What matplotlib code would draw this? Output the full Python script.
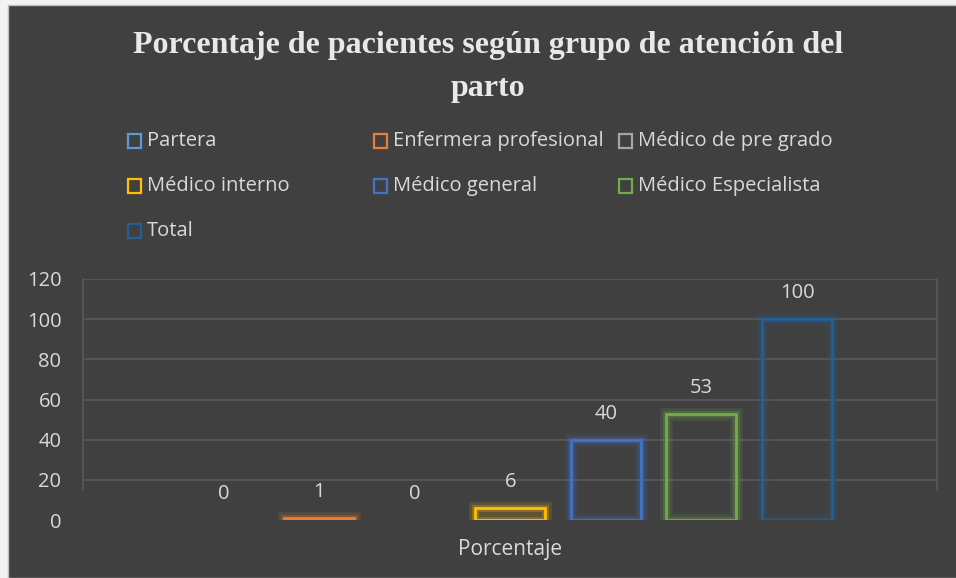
import numpy as np
import matplotlib.pyplot as plt
from matplotlib.patches import Rectangle

# datos del grafico
grupos = ['Partera', 'Enfermera profesional', 'Médico de pre grado',
          'Médico interno', 'Médico general', 'Médico Especialista', 'Total']
porcentaje = [0, 1, 0, 6, 40, 53, 100]
colores = ['#5B9BD5', '#ED7D31', '#A5A5A5', '#FFC000', '#4472C4', '#70AD47', '#255E91']
categoria = 'Porcentaje'
titulo = 'Porcentaje de pacientes según grupo de atención del\nparto'

bg = '#404040'
txt = '#d9d9d9'
grid = '#595959'
W, H = 956, 578

fig = plt.figure(figsize=(W / 100, H / 100), dpi=100, facecolor='#f2f2f2')
fig.patches.append(Rectangle((8 / W, 0), 1, 573 / H, transform=fig.transFigure,
                             facecolor=bg, edgecolor='#bdbdbd', lw=1, zorder=-5))

ax = fig.add_axes([83 / W, (H - 520) / H, (937 - 83) / W, (520 - 279) / H])
ax.set_facecolor('none')
ax.set_zorder(2)

x = np.arange(len(grupos))
ancho = 0.733
for xi, v, c in zip(x, porcentaje, colores):
    if v > 0:
        # halo suave alrededor de la barra
        ax.bar(xi, v, ancho, facecolor='none', edgecolor=c, lw=9, alpha=0.15, zorder=2)
        ax.bar(xi, v, ancho, facecolor='none', edgecolor=c, lw=5, alpha=0.25, zorder=2)
        ax.bar(xi, v, ancho, facecolor='none', edgecolor=c, lw=2, zorder=3)
    ax.annotate(str(v), (xi, v), xytext=(0, 18.7), textcoords='offset points',
                ha='center', va='center', color=txt, fontsize=14.5, family='Open Sans')

ax.set_ylim(0, 120)
ax.set_xlim(-1.476, 7.466)
ax.set_yticks(range(0, 121, 20))
for yv in range(20, 121, 20):
    ax.axhline(yv, color=grid, lw=1.2, zorder=1)
ax.set_xticks([])
ax.tick_params(axis='y', length=0, pad=15.5, labelsize=14.5, labelcolor=txt)
for lab in ax.get_yticklabels():
    lab.set_family('Open Sans')
for s in ['top', 'bottom']:
    ax.spines[s].set_visible(False)
for s in ['left', 'right']:
    ax.spines[s].set_color(grid)
    ax.spines[s].set_linewidth(1.2)
    ax.spines[s].set_bounds(15, 120)

fig.text(510 / W, 1 - 550 / H, categoria, ha='center', va='center',
         color=txt, fontsize=15, family='Open Sans')

fig.text(488 / W, 1 - 67 / H, titulo, ha='center', va='center', color='#e8e8e8',
         fontsize=23, fontweight='bold', family='Liberation Serif', linespacing=1.6)

# leyenda colocada a mano, como en el original
col_x = [127, 373, 618]
fila_y = [141, 186, 231]
for i, (g, c) in enumerate(zip(grupos, colores)):
    px = col_x[i % 3]
    py = fila_y[i // 3]
    fig.patches.append(Rectangle(((px + 1) / W, 1 - (py + 7) / H), 13 / W, 14 / H,
                                 transform=fig.transFigure, facecolor='none',
                                 edgecolor=c, lw=1.6))
    fig.text((px + 20) / W, 1 - py / H, g, ha='left', va='center',
             color=txt, fontsize=14.5, family='Open Sans')

fig.savefig('out.png', dpi=100, facecolor=fig.get_facecolor())
